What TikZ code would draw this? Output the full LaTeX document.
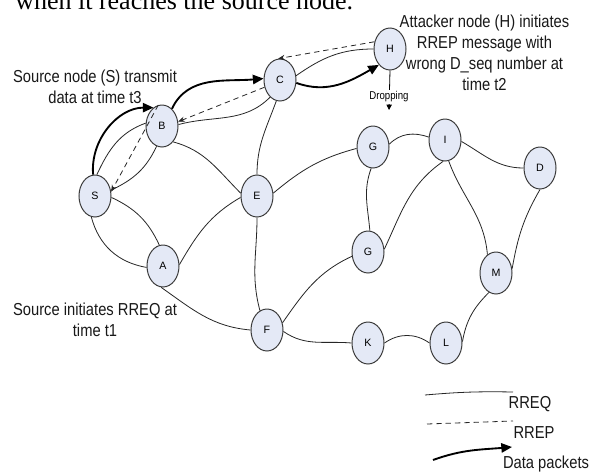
\documentclass[tikz,border=0pt]{standalone}
\usepackage{fontspec}
\setmainfont{Liberation Sans}
\newfontfamily\labfont[FakeStretch=0.85]{Liberation Sans}
\newfontfamily\serifcut{Liberation Serif}
\usetikzlibrary{arrows.meta,shapes.geometric}
\definecolor{ndfill}{RGB}{228,233,246}
\definecolor{ndline}{RGB}{60,60,60}
\begin{document}
\begin{tikzpicture}[x=0.75pt,y=0.75pt,
  nd/.style={ellipse, draw=ndline, line width=0.75pt, fill=ndfill, minimum width=24pt, minimum height=31.5pt, inner sep=0pt, font=\fontsize{8}{9}\selectfont},
  rreq/.style={line width=0.6pt, draw=black!85},
  rrep/.style={line width=0.6pt, draw=black!85, dash pattern=on 4pt off 3pt},
  datapk/.style={line width=1.4pt, draw=black, -{Triangle[length=8pt,width=7pt]}},
  reptip/.style={-{Stealth[length=5pt,width=4pt]}},
  lbl/.style={font=\labfont\fontsize{13}{15.75}\selectfont, align=center, inner sep=0pt, text=black!90}
]
\path[use as bounding box, fill=white] (0,0) rectangle (590,-472);
\begin{scope}
\clip (0,0) rectangle (590,-472);
\node[anchor=base west, inner sep=0pt, font=\serifcut\fontsize{19.5}{20}\selectfont] (top) at (15,-9) {when it reaches the source node.};
\end{scope}

% nodes
\node[nd] (S) at (95,-196) {S};
\node[nd] (B) at (162,-126) {B};
\node[nd] (A) at (163,-266) {A};
\node[nd] (E) at (257,-196) {E};
\node[nd] (C) at (280,-80) {C};
\node[nd] (H) at (390,-49) {H};
\node[nd] (G1) at (373,-147) {G};
\node[nd] (I) at (445,-140) {I};
\node[nd] (D) at (540,-168) {D};
\node[nd] (G2) at (368,-252) {G};
\node[nd] (M) at (496,-273) {M};
\node[nd] (F) at (267,-330) {F};
\node[nd] (K) at (368,-343) {K};
\node[nd] (L) at (446,-343) {L};

% RREQ (solid) edges
\draw[rreq] (S.85) to[out=65,in=200] (B.170);
\draw[rreq] (B.255) to[out=245,in=25] (S.20);
\draw[rreq] (B.-55) to[out=-15,in=135] (E.170);
\draw[rreq] (S.-5) to[out=-25,in=115] (A.100);
\draw[rreq] (S.-100) to[out=-75,in=170] (A.185);
\draw[rreq] (A.5) to[out=60,in=210] (E.185);
\draw[rreq] (A.-95) to[out=-35,in=175] (F.180);
\draw[rreq] (E.90) to[out=90,in=250] (C.-100);
\draw[rreq] (C.-120) to[out=225,in=15] (B.5);
\draw[rreq] (E.10) to[out=40,in=195] (G1.185);
\draw[rreq] (E.-90) to[out=-90,in=105] (F.110);
\draw[rreq] (F.25) to[out=55,in=205] (G2.195);
\draw[rreq] (F.-5) to[out=-35,in=175] (K.180);
\draw[rreq] (K.0) to[out=35,in=145] (L.180);
\draw[rreq] (L.5) to[out=80,in=225] (M.-110);
\draw[rreq] (M.15) to[out=80,in=240] (D.-90);
\draw[rreq] (I.-5) to[out=-30,in=180] (D.180);
\draw[rreq] (I.-80) to[out=-70,in=95] (M.115);
\draw[rreq] (I.-95) to[out=215,in=65] (G2.10);
\draw[rreq] (G1.10) to[out=45,in=160] (I.170);
\draw[rreq] (G1.-95) to[out=-110,in=95] (G2.85);
\draw[rreq] (C.15) to[out=35,in=180] (H.180);

% RREP (dashed) edges
\draw[rrep,reptip] (H.155) -- (C.95);
\draw[rrep,reptip] (C.205) -- (B.15);
\draw[rrep,reptip] (B.100) -- (S.15);

% data packets
\draw[datapk] (S.95) to[out=95,in=180] (B.115);
\draw[datapk] (B.60) to[out=65,in=185] (C.175);
\draw[datapk] (C.-10) to[out=-20,in=210] (H.-125);

% dropping
\coordinate (drop) at (389,-110);
\draw[line width=0.6pt, -{Triangle[length=4pt,width=4pt]}] (H.-90) -- (drop);
\node[fill=white, inner sep=1pt, font=\labfont\fontsize{8.5}{10}\selectfont] (droplbl) at (389,-97) {Dropping};

% texts
\node[lbl] (t3) at (95,-87) {Source node (S) transmit\\data at time t3};
\node[lbl] (t2) at (484.5,-53) {Attacker node (H) initiates\\RREP message with\\wrong D\_seq number at\\time t2};
\node[lbl] (t1) at (95,-320) {Source initiates RREQ at\\time t1};

% legend
\coordinate (l1a) at (425,-395);
\coordinate (l1b) at (513,-392);
\coordinate (l2a) at (427,-424);
\coordinate (l2b) at (513,-421);
\coordinate (l3a) at (433,-460);
\coordinate (l3b) at (512,-447);
\draw[rreq] (l1a) to[bend left=3] (l1b);
\draw[rrep] (l2a) -- (l2b);
\draw[datapk] (l3a) to[out=20,in=185] (l3b);
\node[lbl] (lg1) at (530,-404) {RREQ};
\node[lbl] (lg2) at (534,-433) {RREP};
\node[lbl] (lg3) at (546,-464) {Data packets};
\end{tikzpicture}
\end{document}
